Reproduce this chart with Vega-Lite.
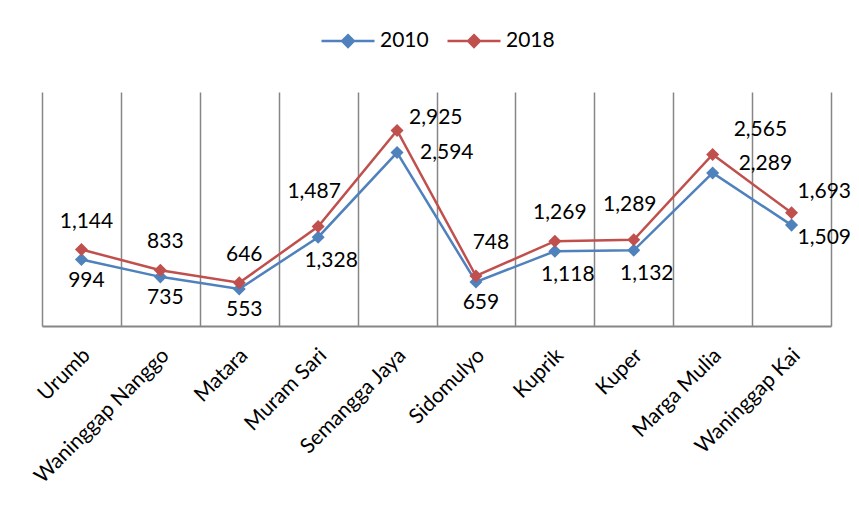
{
  "$schema": "https://vega.github.io/schema/vega-lite/v6.json",
  "width": 789,
  "height": 234,
  "autosize": {"type": "none"},
  "padding": {"left": 42, "top": 92, "right": 28, "bottom": 185},
  "background": "white",
  "config": {"view": {"stroke": null}, "font": "Lato"},
  "data": {
    "values": [
      {"name": "Urumb", "year": "2010", "value": 994},
      {"name": "Waninggap Nanggo", "year": "2010", "value": 735},
      {"name": "Matara", "year": "2010", "value": 553},
      {"name": "Muram Sari", "year": "2010", "value": 1328},
      {"name": "Semangga Jaya", "year": "2010", "value": 2594},
      {"name": "Sidomulyo", "year": "2010", "value": 659},
      {"name": "Kuprik", "year": "2010", "value": 1118},
      {"name": "Kuper", "year": "2010", "value": 1132},
      {"name": "Marga Mulia", "year": "2010", "value": 2289},
      {"name": "Waninggap Kai", "year": "2010", "value": 1509},
      {"name": "Urumb", "year": "2018", "value": 1144},
      {"name": "Waninggap Nanggo", "year": "2018", "value": 833},
      {"name": "Matara", "year": "2018", "value": 646},
      {"name": "Muram Sari", "year": "2018", "value": 1487},
      {"name": "Semangga Jaya", "year": "2018", "value": 2925},
      {"name": "Sidomulyo", "year": "2018", "value": 748},
      {"name": "Kuprik", "year": "2018", "value": 1269},
      {"name": "Kuper", "year": "2018", "value": 1289},
      {"name": "Marga Mulia", "year": "2018", "value": 2565},
      {"name": "Waninggap Kai", "year": "2018", "value": 1693}
    ]
  },
  "encoding": {
    "x": {
      "field": "name", "type": "nominal", "sort": null,
      "scale": {"type": "band", "paddingInner": 0, "paddingOuter": 0},
      "axis": {
        "title": null, "labelAngle": -45, "labelAlign": "right", "labelBaseline": "middle",
        "labelFont": "Lato", "labelFontSize": 21, "labelColor": "black", "labelPadding": 26,
        "labelOffset": 5, "labelLimit": 400, "ticks": false, "tickSize": 0, "tickBand": "extent",
        "grid": true, "gridColor": "#868686", "gridWidth": 1.5, "domainColor": "#868686", "domainWidth": 2
      }
    },
    "y": {"field": "value", "type": "quantitative", "scale": {"domain": [0, 3500]}, "axis": null},
    "color": {
      "field": "year", "type": "nominal",
      "scale": {"domain": ["2010", "2018"], "range": ["#4F81BD", "#C0504D"]},
      "legend": {
        "title": null, "orient": "none", "direction": "horizontal", "legendX": 278, "legendY": -79,
        "padding": 0,
        "symbolType": "M-1,0H1M0,-0.22L0.22,0L0,0.22L-0.22,0Z", "symbolSize": 2809, "symbolStrokeWidth": 2.5,
        "symbolOpacity": 1,
        "labelFont": "Lato", "labelFontSize": 21, "labelColor": "black", "labelOffset": 4, "columnPadding": 13,
        "encode": {"symbols": {"update": {"fill": {"scale": "color", "field": "value"}, "stroke": {"scale": "color", "field": "value"}}}}
      }
    }
  },
  "layer": [
    {"mark": {"type": "line", "strokeWidth": 2.5}},
    {"mark": {"type": "point", "shape": "diamond", "filled": true, "size": 170, "opacity": 1}},
    {
      "transform": [{"filter": "datum.year == '2018' && indexof(['Urumb','Waninggap Nanggo','Matara','Kuprik'], datum.name) >= 0"}],
      "mark": {"type": "text", "fontSize": 21, "font": "Lato", "dx": 5, "dy": -28},
      "encoding": {"text": {"field": "value", "type": "quantitative", "format": ","}, "color": {"value": "black"}}
    },
    {
      "transform": [{"filter": "datum.year == '2018' && indexof(['Muram Sari','Kuper'], datum.name) >= 0"}],
      "mark": {"type": "text", "fontSize": 21, "font": "Lato", "dx": -4, "dy": -35},
      "encoding": {"text": {"field": "value", "type": "quantitative", "format": ","}, "color": {"value": "black"}}
    },
    {
      "transform": [{"filter": "datum.year == '2018' && datum.name == 'Sidomulyo'"}],
      "mark": {"type": "text", "fontSize": 21, "font": "Lato", "dx": 15, "dy": -33},
      "encoding": {"text": {"field": "value", "type": "quantitative", "format": ","}, "color": {"value": "black"}}
    },
    {
      "transform": [{"filter": "datum.year == '2018' && datum.name == 'Semangga Jaya'"}],
      "mark": {"type": "text", "fontSize": 21, "font": "Lato", "align": "left", "dx": 12, "dy": -12},
      "encoding": {"text": {"field": "value", "type": "quantitative", "format": ","}, "color": {"value": "black"}}
    },
    {
      "transform": [{"filter": "datum.year == '2018' && datum.name == 'Marga Mulia'"}],
      "mark": {"type": "text", "fontSize": 21, "font": "Lato", "align": "left", "dx": 21, "dy": -25},
      "encoding": {"text": {"field": "value", "type": "quantitative", "format": ","}, "color": {"value": "black"}}
    },
    {
      "transform": [{"filter": "datum.year == '2018' && datum.name == 'Waninggap Kai'"}],
      "mark": {"type": "text", "fontSize": 21, "font": "Lato", "align": "left", "dx": 6, "dy": -21},
      "encoding": {"text": {"field": "value", "type": "quantitative", "format": ","}, "color": {"value": "black"}}
    },
    {
      "transform": [{"filter": "datum.year == '2010' && indexof(['Urumb','Waninggap Nanggo','Matara','Sidomulyo'], datum.name) >= 0"}],
      "mark": {"type": "text", "fontSize": 21, "font": "Lato", "dx": 5, "dy": 21},
      "encoding": {"text": {"field": "value", "type": "quantitative", "format": ","}, "color": {"value": "black"}}
    },
    {
      "transform": [{"filter": "datum.year == '2010' && indexof(['Muram Sari','Kuprik','Kuper'], datum.name) >= 0"}],
      "mark": {"type": "text", "fontSize": 21, "font": "Lato", "dx": 13, "dy": 24},
      "encoding": {"text": {"field": "value", "type": "quantitative", "format": ","}, "color": {"value": "black"}}
    },
    {
      "transform": [{"filter": "datum.year == '2010' && datum.name == 'Semangga Jaya'"}],
      "mark": {"type": "text", "fontSize": 21, "font": "Lato", "align": "left", "dx": 23, "dy": 0},
      "encoding": {"text": {"field": "value", "type": "quantitative", "format": ","}, "color": {"value": "black"}}
    },
    {
      "transform": [{"filter": "datum.year == '2010' && datum.name == 'Marga Mulia'"}],
      "mark": {"type": "text", "fontSize": 21, "font": "Lato", "align": "left", "dx": 26, "dy": -9},
      "encoding": {"text": {"field": "value", "type": "quantitative", "format": ","}, "color": {"value": "black"}}
    },
    {
      "transform": [{"filter": "datum.year == '2010' && datum.name == 'Waninggap Kai'"}],
      "mark": {"type": "text", "fontSize": 21, "font": "Lato", "align": "left", "dx": 6, "dy": 13},
      "encoding": {"text": {"field": "value", "type": "quantitative", "format": ","}, "color": {"value": "black"}}
    }
  ]
}
